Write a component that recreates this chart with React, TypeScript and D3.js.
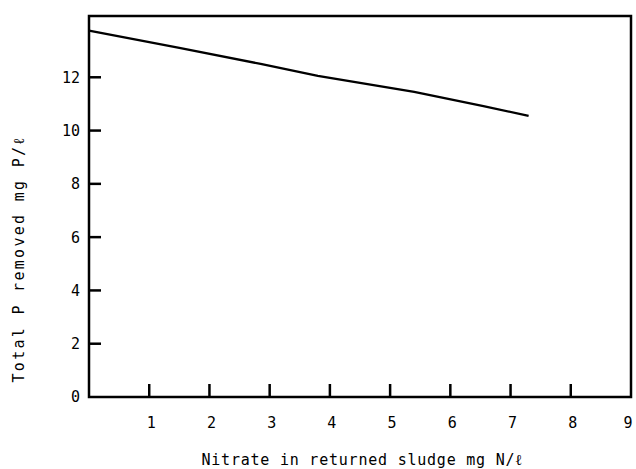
import { useEffect, useRef } from 'react';
import * as d3 from 'd3';

// values
const nitrate = [0, 1.5, 2.85, 3.8, 5.4, 6.55, 7.3];
const totalP = [13.75, 13.1, 12.5, 12.05, 11.45, 10.92, 10.55];
const xTicks = [1, 2, 3, 4, 5, 6, 7, 8, 9];
const yTicks = [0, 2, 4, 6, 8, 10, 12];
const xTitle = 'Nitrate in returned sludge mg N/ℓ';
const yTitle = 'Total P removed  mg P/ℓ';

const FONT = '"DejaVu Sans Mono", monospace';

export default function App() {
    const svgRef = useRef<SVGSVGElement | null>(null);

    useEffect(() => {
        if (!svgRef.current) return;
        const svg = d3.select(svgRef.current);
        svg.selectAll('*').remove();

        const width = 636;
        const height = 469;
        const left = 89, right = 631, top = 16, bottom = 397;

        svg.append('rect').attr('width', width).attr('height', height).attr('fill', '#fff');

        const x = d3.scaleLinear().domain([0, 9]).range([left, right]);
        const y = d3.scaleLinear().domain([0, 14.3]).range([bottom, top]);

        // frame
        svg.append('rect')
            .attr('x', left).attr('y', top)
            .attr('width', right - left).attr('height', bottom - top)
            .attr('fill', 'none').attr('stroke', '#000').attr('stroke-width', 2.5);

        // y ticks, pointing inward
        svg.append('g').selectAll('line').data(yTicks.filter(d => d > 0)).join('line')
            .attr('x1', left).attr('x2', left + 12)
            .attr('y1', d => y(d)).attr('y2', d => y(d))
            .attr('stroke', '#000').attr('stroke-width', 2.5);

        svg.append('g').selectAll('text').data(yTicks).join('text')
            .attr('x', left - 9).attr('y', d => y(d))
            .attr('dy', '0.36em')
            .attr('text-anchor', 'end')
            .attr('font-family', FONT).attr('font-size', 15)
            .text(d => d);

        // x ticks, pointing up
        svg.append('g').selectAll('line').data(xTicks.filter(d => d < 9)).join('line')
            .attr('x1', d => x(d)).attr('x2', d => x(d))
            .attr('y1', bottom).attr('y2', bottom - 13)
            .attr('stroke', '#000').attr('stroke-width', 2.5);

        svg.append('g').selectAll('text').data(xTicks).join('text')
            .attr('x', d => (d === 9 ? x(d) - 3 : x(d) + 2)).attr('y', 428)
            .attr('text-anchor', 'middle')
            .attr('font-family', FONT).attr('font-size', 15)
            .text(d => d);

        // curve
        const line = d3.line<number>()
            .x((_, i) => x(nitrate[i]))
            .y(d => y(d));

        svg.append('path')
            .datum(totalP)
            .attr('d', line)
            .attr('fill', 'none')
            .attr('stroke', '#000')
            .attr('stroke-width', 2.3);

        // titles
        svg.append('text')
            .attr('x', 362).attr('y', 465)
            .attr('text-anchor', 'middle')
            .attr('font-family', FONT).attr('font-size', 15)
            .attr('textLength', 321)
            .text(xTitle);

        svg.append('text')
            .attr('transform', 'translate(24, 260) rotate(-90)')
            .attr('text-anchor', 'middle')
            .attr('font-family', FONT).attr('font-size', 15)
            .attr('textLength', 245)
            .text(yTitle);
    }, []);

    return (
        <svg
            ref={svgRef}
            width={636}
            height={469}
            style={{ position: 'absolute', left: 0, top: 0 }}
        />
    );
}
